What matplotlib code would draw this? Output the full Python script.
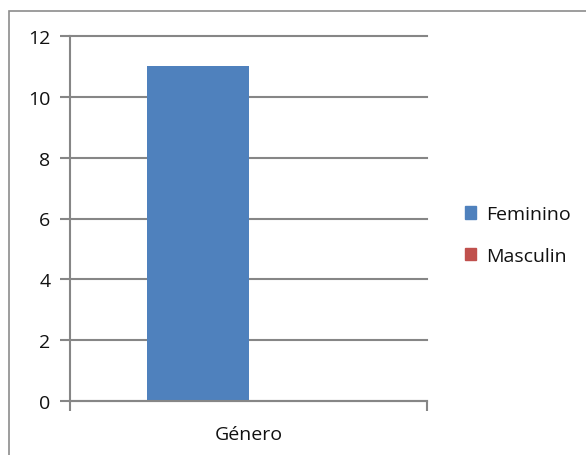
import matplotlib.pyplot as plt
from matplotlib.patches import Rectangle, Patch

categories = ['Género']
series = ['Feminino', 'Masculin']
values = [[11], [0]]
colors = ['#4f81bd', '#c0504d']

plt.rcParams['font.family'] = ['Open Sans', 'DejaVu Sans']

W, H = 586, 456
fig = plt.figure(figsize=(W / 100, H / 100), dpi=100)
ax = fig.add_axes([70 / W, 54 / H, 357 / W, 365 / H])

# Excel style: gap width 150% -> bar width = 1 / 3.5 of category
w = 1 / 3.5
n = len(series)
for i, (name, vals, c) in enumerate(zip(series, values, colors)):
    off = (i - (n - 1) / 2) * w
    ax.bar([k + off for k in range(len(categories))], vals, w, color=c, label=name, zorder=3)

grid_c = '#868686'
ax.set_xlim(-0.5, len(categories) - 0.5)
ax.set_ylim(0, 12)
ax.set_yticks(range(0, 13, 2))
ax.yaxis.grid(True, color=grid_c, linewidth=1.5, zorder=0)
for gl in ax.get_ygridlines():
    gl.set_clip_on(False)
for s in ['top', 'right']:
    ax.spines[s].set_visible(False)
for s in ['left', 'bottom']:
    ax.spines[s].set_color(grid_c)
    ax.spines[s].set_linewidth(1.5)
    ax.spines[s].set_zorder(4)

ax.set_xticks([-0.5, 0.5], minor=False)
ax.set_xticklabels(['', ''])
ax.set_xticks([0], minor=True)
ax.set_xticklabels(categories, minor=True)
ax.tick_params(axis='x', which='major', length=7, width=1.5, color=grid_c)
ax.tick_params(axis='x', which='minor', length=0, pad=17, labelsize=14, labelcolor='#111111')
ax.tick_params(axis='y', length=7, width=1.5, color=grid_c, labelsize=14, pad=7, labelcolor='#111111')

handles = [Patch(color=c) for c in colors]
fig.legend(handles, series, loc='center left', bbox_to_anchor=(447 / W, 1 - 236 / H),
           frameon=False, fontsize=14, handlelength=0.6, handleheight=0.6,
           handletextpad=0.5, labelspacing=1.2, labelcolor='#111111')

fig.patches.append(Rectangle((9 / W, -0.1), 1.2, 1 - 12 / H + 0.1, transform=fig.transFigure,
                             fill=False, edgecolor='#8c8c8c', linewidth=1.2))

fig.savefig('out.png', dpi=100)
